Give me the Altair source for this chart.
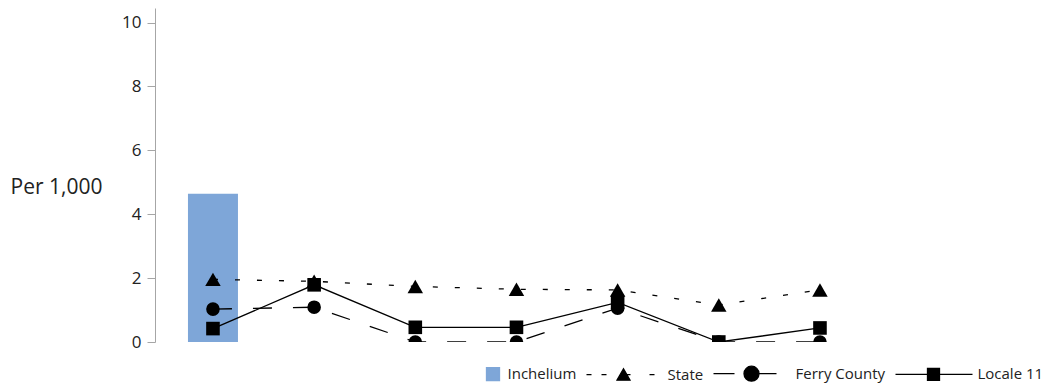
import altair as alt
import pandas as pd

# ---- data ----
idx = [0, 1, 2, 3, 4, 5, 6]
inchelium = [4.64]                                   # bar, first position only
state = [1.96, 1.90, 1.74, 1.65, 1.63, 1.16, 1.63]
ferry = [1.03, 1.09, 0.0, 0.0, 1.06, 0.0, 0.0]
locale = [0.42, 1.79, 0.46, 0.46, 1.24, 0.0, 0.44]
series_names = ["Inchelium", "State", "Ferry County", "Locale 11"]
y_ticks = [0, 2, 4, 6, 8, 10]

BLUE = "#7EA6D8"
FONT = "Open Sans"

bar_df = pd.DataFrame({"idx": idx[:1], "value": inchelium})
line_df = pd.DataFrame({
    "idx": idx * 3,
    "value": state + ferry + locale,
    "series": ["State"] * 7 + ["Ferry County"] * 7 + ["Locale 11"] * 7,
})
legend_df = pd.DataFrame({"key": series_names})

x_scale = alt.Scale(domain=[-0.573, 6.544], nice=False, zero=False, padding=0)
y_scale = alt.Scale(domain=[0, 10.457], nice=False, zero=True)

X = alt.X("idx:Q", scale=x_scale, axis=None)
Y = alt.Y(
    "value:Q", scale=y_scale,
    axis=alt.Axis(values=y_ticks, title="Per 1,000", grid=False,
                  titleAngle=0, titleX=-145, titleY=179,
                  titleAlign="left", titleBaseline="middle"),
)

bar = alt.Chart(bar_df).mark_bar(color=BLUE, size=50).encode(x=X, y=Y)


def line_layer(name, dash=None):
    kw = dict(color="black", strokeWidth=1.3, clip=True)
    if dash is not None:
        kw["strokeDash"] = dash
    return (alt.Chart(line_df).transform_filter(alt.datum.series == name)
            .mark_line(**kw).encode(x=X, y=Y))


def point_layer(name, shape, size):
    return (alt.Chart(line_df).transform_filter(alt.datum.series == name)
            .mark_point(shape=shape, size=size, filled=True, color="black",
                        opacity=1, clip=True)
            .encode(x=X, y=Y))


lines = [
    line_layer("State", [5, 17]),
    line_layer("Ferry County", [19, 21]),
    line_layer("Locale 11"),
]
points = [
    point_layer("State", "triangle-up", 240),
    point_layer("Ferry County", "circle", 185),
    point_layer("Locale 11", "square", 185),
]

# legend symbols (pixel units, marker centred at 0)
legend_paths = [
    "M23,-6.5H36V6.5H23Z",
    "M-37,0H-32M-22,0H-17M2,0H7M26,0H31M0,-6L6.5,5.5L-6.5,5.5Z",
    "M-38,0H-17M8,0H25M-7.5,0A7.5,7.5 0 1,0 7.5,0A7.5,7.5 0 1,0 -7.5,0Z",
    "M-38,0H39M-6,-6H6V6H-6Z",
]
legend_fill = [BLUE, "black", "black", "black"]
legend_stroke = [BLUE, "black", "black", "black"]

leg = alt.Legend(title=None, orient="none", direction="horizontal",
                 legendX=301, legendY=358, symbolSize=4, symbolStrokeWidth=1.3,
                 labelOffset=36.5, symbolOffset=0, columnPadding=6,
                 labelFont=FONT, labelFontSize=15, labelColor="#222",
                 padding=0)

legend_layer = (
    alt.Chart(legend_df).transform_filter("false")
    .mark_point(filled=True, opacity=1)
    .encode(
        shape=alt.Shape("key:N", scale=alt.Scale(domain=series_names, range=legend_paths), legend=leg),
        fill=alt.Fill("key:N", scale=alt.Scale(domain=series_names, range=legend_fill), legend=leg),
        stroke=alt.Stroke("key:N", scale=alt.Scale(domain=series_names, range=legend_stroke), legend=leg),
    )
)

chart = (
    alt.layer(bar, *lines, *points, legend_layer)
    .properties(width=720, height=334,
                padding={"left": 2, "top": 0, "right": 0, "bottom": 0})
    .configure_view(stroke=None)
    .configure_axis(domainColor="#a6a6a6", tickColor="#a6a6a6", tickSize=8,
                    labelFont=FONT, labelFontSize=17, labelColor="#222",
                    labelPadding=6, titleFont=FONT, titleFontSize=21,
                    titleFontWeight="normal", titleColor="#222")
)

chart.save("out.html", embed_options={"renderer": "svg", "actions": False})
